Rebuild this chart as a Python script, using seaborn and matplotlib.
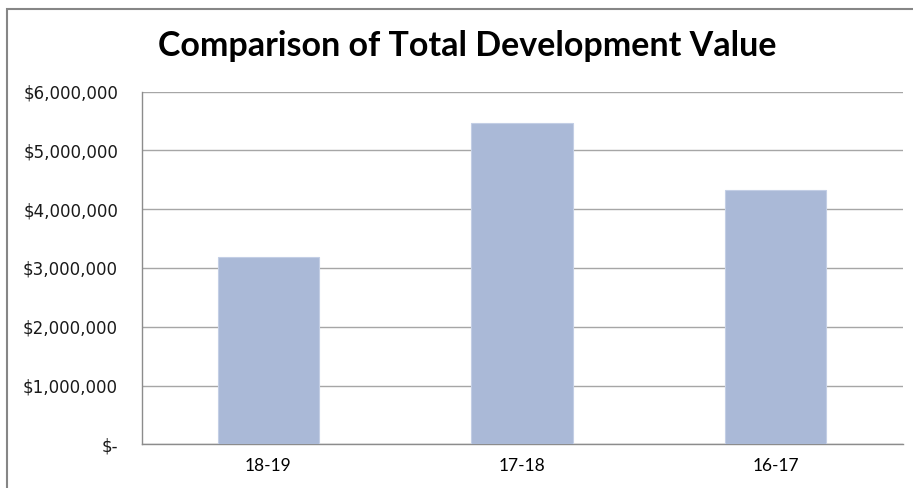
import matplotlib
matplotlib.use("Agg")
import matplotlib.pyplot as plt
import seaborn as sns
import pandas as pd
from matplotlib.patches import Rectangle
from matplotlib.ticker import FixedLocator

categories = ["18-19", "17-18", "16-17"]
values = [3180000, 5460000, 4320000]
yticks = [0, 1000000, 2000000, 3000000, 4000000, 5000000, 6000000]
ytick_labels = ["$-", "$1,000,000", "$2,000,000", "$3,000,000",
                "$4,000,000", "$5,000,000", "$6,000,000"]
title = "Comparison of Total Development Value"

sns.set_theme(style="white")
plt.rcParams['font.family'] = ['Lato', 'DejaVu Sans']

df = pd.DataFrame({"period": categories, "value": values})

fig = plt.figure(figsize=(9.13, 4.88), dpi=100)
ax = fig.add_axes([141.7/913, 43.7/488, 760.8/913, 352.8/488])

sns.barplot(data=df, x="period", y="value", ax=ax, color="#AAB9D7",
            width=0.4, saturation=1, edgecolor="#C3CEE5", linewidth=0.8, zorder=3)

ax.set_xlim(-0.5, 2.5)
ax.set_ylim(0, 6000000)
ax.set_yticks(yticks, labels=ytick_labels, fontfamily="DejaVu Sans", fontsize=12, color="#1a1a1a")
ax.grid(axis="y", color="#A6A6A6", linewidth=1.0, zorder=0)
ax.set_axisbelow(True)
for s in ["top", "right"]:
    ax.spines[s].set_visible(False)
for s in ["left", "bottom"]:
    ax.spines[s].set_color("#8C8C8C")
    ax.spines[s].set_linewidth(1.0)
ax.set_xlabel("")
ax.set_ylabel("")
ax.tick_params(axis="y", which="major", length=7, width=1, color="#8C8C8C",
               direction="out", pad=10)
ax.tick_params(axis="x", which="major", length=0, pad=10, labelsize=12.5, labelcolor="#000000")
ax.xaxis.set_minor_locator(FixedLocator([-0.5, 0.5, 1.5, 2.5]))
ax.tick_params(axis="x", which="minor", length=6, width=1, color="#8C8C8C", direction="out")

fig.text(467/913, 1 - 46/488, title, ha="center", va="center",
         fontsize=24.5, fontweight="bold", color="#000000")

# chart border (left and top visible)
fig.patches.append(Rectangle((7/913, -0.1), 2.0, 1 - 9/488 + 0.1, transform=fig.transFigure,
                             fill=False, edgecolor="#868686", linewidth=1.5, zorder=10))

fig.savefig("out.png", dpi=100)
